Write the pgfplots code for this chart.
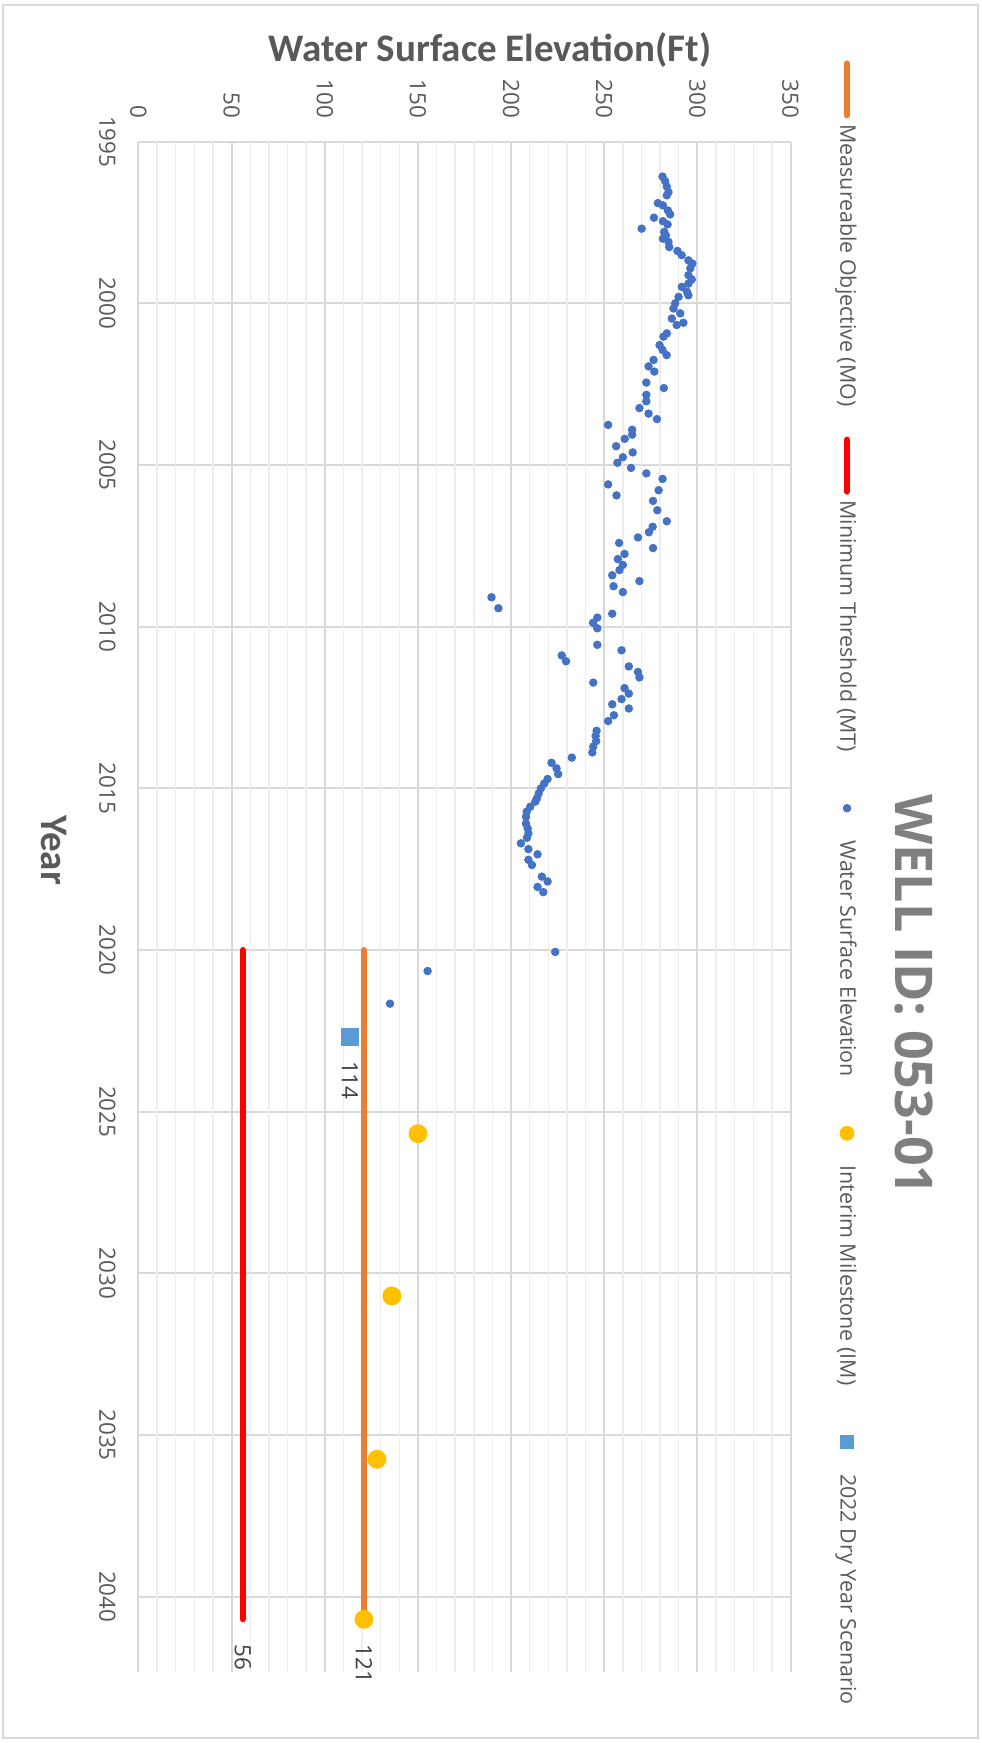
\documentclass[border=0pt]{standalone}
\usepackage{fontspec}
\setmainfont{Open Sans}
\newfontfamily\titlefont{Carlito}
\usepackage{pgfplots}
\pgfplotsset{compat=1.18}

\definecolor{wseblue}{HTML}{4472C4}
\definecolor{imyellow}{HTML}{FFC000}
\definecolor{moorange}{HTML}{ED7D31}
\definecolor{mtred}{HTML}{FF0000}
\definecolor{dryblue}{HTML}{5B9BD5}
\definecolor{gridmajor}{HTML}{D9D9D9}
\definecolor{gridminor}{HTML}{EDEDED}
\definecolor{ticktext}{HTML}{595959}
\definecolor{axisgray}{HTML}{595959}
\definecolor{titlegray}{HTML}{7F7F7F}
\definecolor{labeltext}{HTML}{404040}
\definecolor{bordergray}{HTML}{D9D9D9}

\pgfplotsset{
  linelegend/.style={legend image code/.code={\path (0pt,0pt) (29pt,0pt); \draw[##1] (1.5pt,0pt) -- (27.5pt,0pt);}},
  marklegend/.style={legend image code/.code={\path (0pt,0pt) (29pt,0pt); \draw[##1, mark size=#1] plot coordinates {(14.5pt,0pt)};}},
}

\begin{document}
\begin{tikzpicture}
\fill[white] (0,0) rectangle (490.5pt,871.5pt);
\begin{scope}[transform canvas={shift={(490.5pt,871.5pt)},rotate=-90}]
\begin{axis}[
  at={(70.85pt,-421.25pt)}, anchor=south west,
  width=765pt, height=326pt, scale only axis,
  xmin=1995, xmax=2042.32, ymin=0, ymax=350,
  xtick={1995,2000,...,2040}, ytick={0,50,...,350},
  minor y tick num=4,
  xmajorgrids, ymajorgrids, yminorgrids,
  major grid style={color=gridmajor, line width=1pt},
  minor grid style={color=gridminor, line width=0.7pt},
  axis line style={draw=none}, tick style={draw=none},
  major tick length=0pt, minor tick length=0pt,
  /pgf/number format/assume math mode=true,
  /pgf/number format/1000 sep={},
  tick label style={font=\fontsize{11.2}{13}\selectfont, text=ticktext},
  xticklabel style={anchor=north, inner sep=0pt, yshift=-11.25pt},
  yticklabel style={anchor=east, inner sep=0pt, xshift=-11.5pt},
  clip=false,
  title={WELL ID: 053-01},
  title style={at={(axis description cs:0.5577,1.171)}, anchor=center,
    font=\bfseries\fontsize{26}{30}\selectfont, text=titlegray},
  xlabel={Year},
  xlabel style={at={(axis description cs:0.463,-0.129)}, anchor=center,
    font=\titlefont\bfseries\fontsize{19.5}{22}\selectfont, text=axisgray},
  ylabel={Water Surface Elevation(Ft)},
  ylabel style={at={(axis description cs:-0.0599,0.539)}, anchor=center,
    font=\titlefont\bfseries\fontsize{19.5}{22}\selectfont, text=axisgray},
  legend style={at={(axis description cs:0.4842,1.0867)}, anchor=center,
    draw=none, fill=none, font=\fontsize{10.7}{13}\selectfont, text=axisgray,
    nodes={inner xsep=1.5pt, inner ysep=1pt},
    /tikz/every even column/.append style={column sep=12pt}},
  legend columns=5,
]
% Measureable Objective
\addplot[color=moorange, line width=3pt, line cap=round, linelegend]
  coordinates {(2020.0,121) (2040.7,121)};
\addlegendentry{Measureable Objective (MO)}
% Minimum Threshold
\addplot[color=mtred, line width=3pt, line cap=round, linelegend]
  coordinates {(2020.0,56) (2040.7,56)};
\addlegendentry{Minimum Threshold (MT)}
% Water surface elevation
\addplot[only marks, mark=*, mark size=1.9pt, color=wseblue,
  mark options={draw=none, fill=wseblue}, marklegend=1.9pt]
  table[row sep=\\] {
x y\\
1996.08 281.3\\ 1996.22 282.7\\ 1996.39 283.6\\ 1996.56 284.5\\ 1996.66 283.6\\
1996.90 278.8\\ 1996.97 281.5\\ 1997.13 284.2\\ 1997.25 285.4\\ 1997.35 276.7\\
1997.46 281.5\\ 1997.56 284.0\\ 1997.69 270.1\\ 1997.79 282.2\\ 1997.90 283.1\\
1998.00 281.5\\ 1998.10 284.5\\ 1998.26 284.9\\ 1998.38 289.3\\ 1998.51 291.6\\
1998.67 295.2\\ 1998.77 297.3\\ 1998.92 296.2\\ 1999.13 295.2\\ 1999.26 297.0\\
1999.39 295.2\\ 1999.49 291.6\\ 1999.64 294.4\\ 1999.75 295.2\\ 1999.80 289.9\\
2000.00 288.1\\ 2000.16 287.2\\ 2000.31 290.8\\ 2000.47 286.3\\ 2000.60 292.5\\
2000.67 288.9\\ 2000.93 283.6\\ 2001.03 281.8\\ 2001.29 279.7\\ 2001.44 281.3\\
2001.60 283.5\\ 2001.75 276.5\\ 2001.95 273.8\\ 2002.11 276.9\\ 2002.45 272.6\\
2002.62 282.0\\ 2002.83 272.6\\ 2003.03 272.6\\ 2003.24 268.9\\ 2003.41 273.8\\
2003.58 278.3\\ 2003.76 252.1\\ 2003.91 265.0\\ 2004.06 265.0\\ 2004.19 261.0\\
2004.42 256.4\\ 2004.61 265.3\\ 2004.76 260.0\\ 2004.93 257.1\\ 2005.09 264.4\\
2005.26 272.6\\ 2005.43 281.3\\ 2005.60 252.1\\ 2005.78 279.2\\ 2005.94 256.6\\
2006.11 276.2\\ 2006.40 278.5\\ 2006.74 283.6\\ 2006.91 276.0\\ 2007.08 274.0\\
2007.24 268.1\\ 2007.41 258.0\\ 2007.57 276.2\\ 2007.75 260.9\\ 2007.91 257.3\\
2008.09 260.0\\ 2008.25 258.2\\ 2008.41 254.3\\ 2008.59 268.9\\ 2008.75 255.0\\
2008.93 260.0\\ 2009.09 189.5\\ 2009.43 193.2\\ 2009.60 254.3\\ 2009.72 246.3\\
2009.88 244.0\\ 2010.05 246.3\\ 2010.56 246.3\\ 2010.73 259.3\\ 2010.89 227.2\\
2011.07 229.5\\ 2011.23 263.2\\ 2011.40 268.1\\ 2011.57 268.9\\ 2011.73 244.1\\
2011.90 260.9\\ 2012.07 263.2\\ 2012.24 259.3\\ 2012.40 254.3\\ 2012.53 263.2\\
2012.74 255.2\\ 2012.92 252.1\\ 2013.22 245.9\\ 2013.38 245.4\\ 2013.54 245.7\\
2013.71 244.1\\ 2013.89 243.6\\ 2014.05 232.6\\ 2014.21 221.7\\ 2014.38 224.4\\
2014.56 225.3\\ 2014.71 219.6\\ 2014.85 217.8\\ 2015.00 216.0\\ 2015.16 214.8\\
2015.31 213.9\\ 2015.41 213.0\\ 2015.57 210.3\\ 2015.72 208.4\\ 2015.88 208.0\\
2016.09 208.0\\ 2016.24 208.9\\ 2016.39 209.3\\ 2016.53 208.5\\ 2016.70 205.3\\
2016.88 209.3\\ 2017.04 214.2\\ 2017.21 209.3\\ 2017.37 211.2\\ 2017.73 216.5\\
2017.88 219.6\\ 2018.05 214.2\\ 2018.21 217.3\\ 2020.06 223.7\\ 2020.65 155.2\\
2021.66 135.0\\
};
\addlegendentry{Water Surface Elevation}
% Interim milestones
\addplot[only marks, mark=*, mark size=4.5pt, color=imyellow,
  mark options={draw=none, fill=imyellow}, marklegend=3.5pt]
  coordinates {(2025.68,150) (2030.7,136) (2035.75,128) (2040.7,121)};
\addlegendentry{Interim Milestone (IM)}
% Dry year scenario
\addplot[only marks, mark=square*, mark size=4.25pt, color=dryblue,
  mark options={draw=none, fill=dryblue}, marklegend=3.3pt]
  coordinates {(2022.68,113.5)};
\addlegendentry{2022 Dry Year Scenario}
% data labels
\node[anchor=west, inner sep=0pt, xshift=12pt, font=\fontsize{11.2}{13}\selectfont, text=labeltext] at (axis cs:2022.68,113.5) {114};
\node[anchor=west, inner sep=0pt, xshift=12.5pt, font=\fontsize{11.2}{13}\selectfont, text=labeltext] at (axis cs:2040.7,121) {121};
\node[anchor=west, inner sep=0pt, xshift=12.5pt, font=\fontsize{11.2}{13}\selectfont, text=labeltext] at (axis cs:2040.7,56) {56};
\end{axis}
\end{scope}
\draw[color=bordergray, line width=1pt] (1.5pt,2.5pt) rectangle (489pt,869pt);
\pgfresetboundingbox
\useasboundingbox (0,0) rectangle (490.5pt,871.5pt);
\end{tikzpicture}
\end{document}
